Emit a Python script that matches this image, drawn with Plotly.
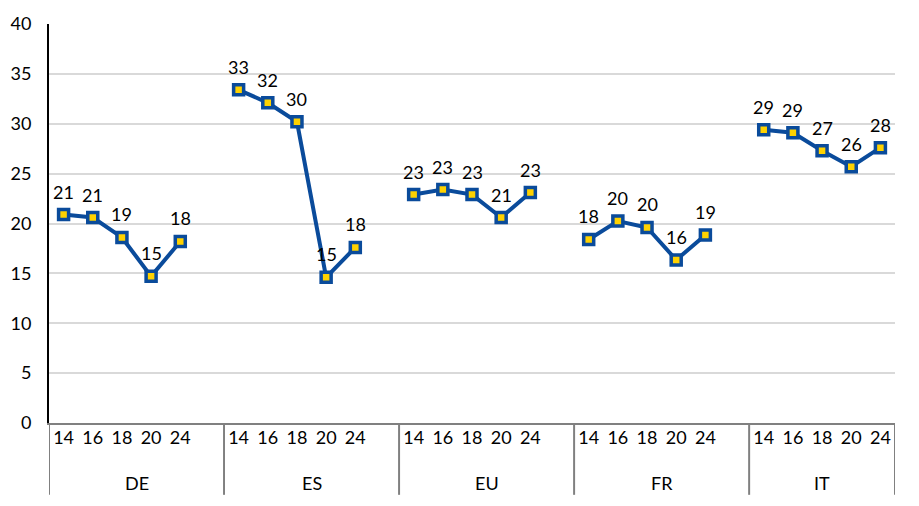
import plotly.graph_objects as go

groups = ["DE", "ES", "EU", "FR", "IT"]
years = ["14", "16", "18", "20", "24"]
values = {
    "DE": [20.9, 20.6, 18.6, 14.7, 18.2],
    "ES": [33.4, 32.1, 30.2, 14.6, 17.6],
    "EU": [22.9, 23.4, 22.9, 20.6, 23.1],
    "FR": [18.4, 20.25, 19.6, 16.35, 18.85],
    "IT": [29.4, 29.1, 27.3, 25.7, 27.6],
}

LINE = "#0a4b9b"
FILL = "#ffd200"
FONT = "Lato"
FS = 18
SLOTS = 6  # five years plus one empty category slot after each group

xpos, xlab, ys = [], [], []
for gi, g in enumerate(groups):
    for i, (yr, v) in enumerate(zip(years, values[g])):
        xpos.append(gi * SLOTS + i); xlab.append(yr); ys.append(v)
    if gi < len(groups) - 1:
        xpos.append(gi * SLOTS + len(years)); xlab.append(""); ys.append(None)

x_max = (len(groups) - 1) * SLOTS + len(years) - 0.5

fig = go.Figure()
fig.add_trace(go.Scatter(
    x=xpos, y=ys, mode="lines+markers",
    line=dict(color=LINE, width=4),
    marker=dict(symbol="square", size=10, color=FILL, line=dict(color=LINE, width=3.5)),
    connectgaps=False, hoverinfo="skip", showlegend=False,
))

for x, v in zip(xpos, ys):
    if v is None:
        continue
    fig.add_annotation(x=x, y=v, text=f"{v:.0f}", showarrow=False,
                       yshift=23, font=dict(family=FONT, size=FS, color="black"))

# group labels and dividers below the axis
bounds = [gi * SLOTS - 0.5 for gi in range(len(groups))] + [x_max]
for gi, g in enumerate(groups):
    cx = (bounds[gi] + bounds[gi + 1]) / 2 if gi == len(groups) - 1 else gi * SLOTS + (SLOTS - 1) / 2
    fig.add_annotation(x=cx, y=-0.15, yref="paper", yanchor="middle", text=g, showarrow=False,
                       font=dict(family=FONT, size=FS, color="black"))
for b in bounds:
    fig.add_shape(type="line", x0=b, x1=b, y0=0, y1=-0.18, yref="paper", xref="x",
                  line=dict(color="#808080", width=2), layer="above")

fig.update_layout(
    width=919, height=506,
    margin=dict(l=49, r=24, t=24, b=83),
    paper_bgcolor="white", plot_bgcolor="white",
    font=dict(family=FONT, size=FS, color="black"),
)
fig.update_xaxes(
    range=[-0.5, x_max], tickmode="array", tickvals=xpos, ticktext=xlab,
    showline=True, linecolor="#808080", linewidth=2, showgrid=False, zeroline=False,
    ticks="", ticklabelstandoff=-3, automargin=False,
    tickfont=dict(family=FONT, size=FS, color="black"),
)
fig.update_yaxes(
    range=[0, 40], dtick=5, showgrid=True, gridcolor="#d9d9d9", gridwidth=1.5,
    showline=True, linecolor="black", linewidth=2, zeroline=False, automargin=False,
    ticklabelstandoff=12, tickfont=dict(family=FONT, size=FS, color="black"),
)

fig.write_html("out.html", config={"displayModeBar": False},
               post_script="document.body.style.margin='0px';")
